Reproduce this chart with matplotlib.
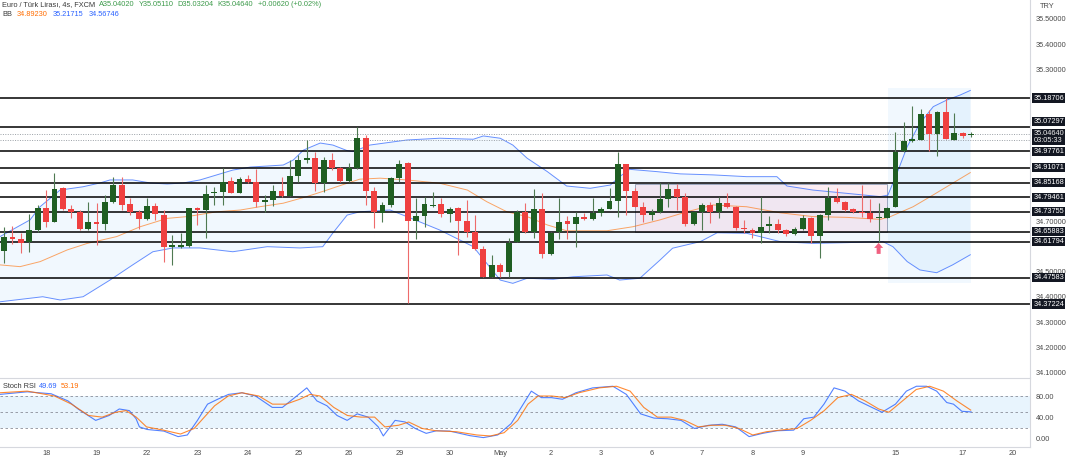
import matplotlib
matplotlib.use("Agg")
import matplotlib.pyplot as plt
import matplotlib.transforms as mtransforms
from matplotlib.patches import Rectangle, Polygon
import numpy as np

plt.rcParams["font.family"] = ["Liberation Sans", "DejaVu Sans"]

# 4h EUR/TRY candles (oldest first)
opens = [34.583, 34.636, 34.628, 34.616, 34.665, 34.753, 34.698, 34.830, 34.747, 34.738,
         34.668, 34.698, 34.687, 34.776, 34.843, 34.767, 34.735, 34.707, 34.760, 34.726,
         34.599, 34.599, 34.602, 34.751, 34.744, 34.810, 34.817, 34.859, 34.813, 34.865,
         34.855, 34.777, 34.784, 34.821, 34.800, 34.879, 34.942, 34.948, 34.850, 34.942,
         34.909, 34.860, 34.909, 35.028, 34.819, 34.734, 34.764, 34.869, 34.929, 34.702,
         34.720, 34.759, 34.768, 34.727, 34.751, 34.702, 34.656, 34.588, 34.480, 34.527,
         34.500, 34.619, 34.735, 34.658, 34.747, 34.570, 34.656, 34.701, 34.687, 34.718,
         34.708, 34.734, 34.748, 34.780, 34.925, 34.821, 34.757, 34.724, 34.738, 34.786,
         34.827, 34.797, 34.687, 34.735, 34.764, 34.735, 34.771, 34.757, 34.674, 34.665,
         34.654, 34.681, 34.687, 34.665, 34.648, 34.669, 34.714, 34.641, 34.724, 34.790,
         34.777, 34.747, 34.737, 34.731, 34.711, 34.714, 34.757, 34.977, 35.018, 35.021,
         35.122, 35.045, 35.133, 35.021, 35.050, 35.0402]
highs = [34.676, 34.681, 34.652, 34.727, 34.764, 34.823, 34.889, 34.836, 34.764, 34.744,
         34.777, 34.771, 34.803, 34.876, 34.876, 34.790, 34.744, 34.790, 34.771, 34.744,
         34.645, 34.652, 34.752, 34.755, 34.843, 34.836, 34.909, 34.873, 34.876, 34.883,
         34.905, 34.803, 34.843, 34.873, 34.942, 34.962, 35.021, 34.975, 34.955, 34.968,
         34.916, 34.929, 35.074, 35.041, 34.836, 34.777, 34.876, 34.942, 34.935, 34.790,
         34.797, 34.817, 34.790, 34.755, 34.755, 34.784, 34.724, 34.602, 34.566, 34.533,
         34.632, 34.744, 34.771, 34.826, 34.810, 34.658, 34.793, 34.722, 34.738, 34.731,
         34.793, 34.755, 34.830, 34.975, 34.926, 34.830, 34.777, 34.747, 34.850, 34.850,
         34.847, 34.810, 34.738, 34.771, 34.777, 34.794, 34.810, 34.760, 34.705, 34.672,
         34.797, 34.720, 34.707, 34.668, 34.676, 34.724, 34.718, 34.727, 34.836, 34.830,
         34.778, 34.751, 34.843, 34.786, 34.770, 34.757, 35.054, 35.093, 35.157, 35.144,
         35.140, 35.134, 35.188, 35.126, 35.054, 35.0511]
lows = [34.533, 34.610, 34.573, 34.579, 34.658, 34.678, 34.697, 34.744, 34.711, 34.665,
        34.665, 34.606, 34.665, 34.771, 34.744, 34.724, 34.668, 34.705, 34.705, 34.540,
        34.527, 34.592, 34.599, 34.685, 34.632, 34.764, 34.764, 34.810, 34.810, 34.850,
        34.755, 34.738, 34.760, 34.797, 34.799, 34.856, 34.929, 34.821, 34.817, 34.902,
        34.856, 34.856, 34.908, 34.764, 34.672, 34.698, 34.757, 34.856, 34.375, 34.628,
        34.678, 34.755, 34.718, 34.698, 34.566, 34.639, 34.586, 34.480, 34.480, 34.480,
        34.480, 34.616, 34.652, 34.632, 34.553, 34.566, 34.628, 34.629, 34.599, 34.705,
        34.705, 34.722, 34.747, 34.715, 34.724, 34.755, 34.698, 34.705, 34.731, 34.755,
        34.744, 34.681, 34.685, 34.665, 34.691, 34.711, 34.751, 34.665, 34.652, 34.632,
        34.612, 34.654, 34.652, 34.641, 34.645, 34.665, 34.615, 34.553, 34.705, 34.771,
        34.742, 34.731, 34.718, 34.698, 34.619, 34.711, 34.757, 34.975, 35.014, 35.020,
        34.977, 34.959, 35.023, 35.020, 35.028, 35.0320]
closes = [34.636, 34.629, 34.615, 34.665, 34.753, 34.698, 34.826, 34.748, 34.736, 34.668,
          34.697, 34.689, 34.774, 34.842, 34.764, 34.738, 34.707, 34.760, 34.727, 34.598,
          34.602, 34.604, 34.751, 34.744, 34.807, 34.817, 34.856, 34.813, 34.865, 34.855,
          34.777, 34.784, 34.821, 34.800, 34.879, 34.942, 34.948, 34.850, 34.942, 34.909,
          34.860, 34.909, 35.028, 34.819, 34.735, 34.763, 34.869, 34.926, 34.702, 34.720,
          34.768, 34.762, 34.727, 34.747, 34.702, 34.656, 34.588, 34.480, 34.527, 34.500,
          34.615, 34.735, 34.658, 34.747, 34.570, 34.652, 34.698, 34.687, 34.718, 34.708,
          34.734, 34.748, 34.780, 34.925, 34.821, 34.757, 34.724, 34.738, 34.786, 34.827,
          34.794, 34.687, 34.735, 34.764, 34.735, 34.771, 34.757, 34.672, 34.668, 34.654,
          34.676, 34.687, 34.665, 34.648, 34.669, 34.711, 34.641, 34.724, 34.790, 34.777,
          34.744, 34.738, 34.731, 34.707, 34.714, 34.753, 34.975, 35.017, 35.021, 35.122,
          35.043, 35.133, 35.024, 35.050, 35.038, 35.0464]

# Bollinger Bands (20, 2): bar position -> price
bb_upper_x = [-0.48, 3.09, 4.28, 6.66, 9.39, 11.4, 12.6, 15.3, 17.4, 19.4, 21.3, 23.3, 25.3, 27.2,
              29.3, 31.3, 33.2, 34.4, 35.6, 37.6, 39.1, 40.8, 41.5, 43.5, 47.9, 51.8, 55.8, 57.0,
              59.0, 60.5, 62.2, 64.6, 66.9, 69.7, 72.1, 73.2, 74.4, 77.6, 80.4, 84.3, 88.3, 91.9,
              93.1, 96.2, 100.2, 104.2, 105.1, 106.2, 107.4, 108.9, 110.5, 112.1, 113.7, 114.9]
bb_upper = [34.639, 34.705, 34.757, 34.823, 34.836, 34.851, 34.863, 34.863, 34.851, 34.847,
            34.851, 34.863, 34.883, 34.902, 34.914, 34.918, 34.922, 34.942, 34.981, 35.009,
            35.001, 34.979, 34.975, 35.001, 35.021, 35.028, 35.024, 35.037, 35.028, 35.001,
            34.949, 34.896, 34.839, 34.830, 34.843, 34.876, 34.905, 34.896, 34.887, 34.883,
            34.876, 34.876, 34.839, 34.823, 34.810, 34.797, 34.803, 34.891, 34.995, 35.087,
            35.153, 35.179, 35.199, 35.217]
bb_mid_x = [-0.48, 1.9, 4.3, 7.5, 9.9, 13.4, 16.2, 19.4, 21.8, 25.3, 28.1, 30.4, 33.2, 36.0,
            38.4, 40.8, 42.3, 44.7, 47.9, 51.8, 55.1, 57.4, 59.8, 62.2, 64.6, 66.9, 71.7, 74.8,
            78.0, 81.2, 84.3, 88.3, 92.3, 96.2, 100.2, 104.2, 105.4, 108.1, 110.5, 112.8, 114.9]
bb_mid = [34.527, 34.520, 34.540, 34.586, 34.612, 34.639, 34.678, 34.711, 34.718, 34.737,
          34.744, 34.757, 34.771, 34.797, 34.823, 34.850, 34.866, 34.870, 34.863, 34.850,
          34.823, 34.777, 34.737, 34.718, 34.685, 34.662, 34.662, 34.678, 34.705, 34.737,
          34.764, 34.757, 34.733, 34.718, 34.715, 34.707, 34.718, 34.757, 34.804, 34.850, 34.892]
bb_lower_x = [-0.48, 4.6, 6.7, 9.4, 12.6, 15.3, 17.7, 20.1, 23.3, 27.2, 31.3, 35.2, 37.9, 39.1,
              40.8, 42.3, 45.9, 47.9, 51.8, 55.8, 57.4, 59.0, 60.5, 62.2, 65.3, 67.7, 71.7, 73.2,
              75.6, 78.0, 79.5, 82.8, 84.8, 88.3, 92.3, 96.2, 100.2, 104.5, 105.7, 107.4, 108.9,
              110.9, 112.8, 114.9]
bb_lower = [34.381, 34.401, 34.388, 34.401, 34.467, 34.527, 34.579, 34.594, 34.594, 34.579,
            34.599, 34.594, 34.599, 34.653, 34.724, 34.737, 34.744, 34.718, 34.665, 34.599,
            34.533, 34.467, 34.454, 34.474, 34.470, 34.480, 34.487, 34.467, 34.474, 34.546,
            34.593, 34.619, 34.654, 34.652, 34.619, 34.612, 34.615, 34.619, 34.599, 34.540,
            34.507, 34.496, 34.527, 34.567]

# support / resistance levels drawn on the chart
levels = [35.18706, 35.07297, 34.97761, 34.91071, 34.85168, 34.79461,
          34.73755, 34.65883, 34.61794, 34.47583, 34.37224]
last_price = 35.04640
last_price_2 = 35.021
countdown = "03:05:33"
scale_ticks = [35.5, 35.4, 35.3, 34.7, 34.5, 34.4, 34.3, 34.2, 34.1]

# consolidation box and marker
box_start, box_end = 75.0, 105.0
box_low, box_high = 34.658, 34.845
zone_start, zone_end = 105.1, 115.0
zone_low, zone_high = 34.455, 35.225
arrow_bar, arrow_price = 104.0, 34.614

# Stoch RSI
k_x = [-0.48, 2.76, 5.6, 7.6, 8.8, 10.9, 12.5, 13.7, 14.9, 15.7, 16.1, 17.0, 19.0, 20.7, 21.8,
       23.0, 24.2, 25.4, 26.7, 28.3, 29.9, 31.9, 33.1, 34.8, 36.0, 37.2, 38.4, 39.6, 40.8, 42.0,
       43.3, 44.5, 45.1, 46.5, 47.7, 48.9, 50.2, 51.4, 53.0, 55.4, 57.0, 58.7, 60.3, 61.5, 62.7,
       63.9, 65.1, 66.4, 68.0, 70.0, 72.4, 74.0, 75.7, 77.3, 78.9, 80.5, 82.1, 83.8, 85.4, 87.0,
       88.6, 90.2, 91.9, 93.9, 95.1, 96.3, 97.5, 98.7, 100.0, 101.6, 103.2, 104.4, 106.0, 107.3,
       108.5, 109.7, 110.9, 112.1, 112.9, 113.9, 115.0]
k_vals = [83.1, 88, 84.3, 70.7, 55.3, 33.6, 42.9, 55.3, 52.2, 36.7, 21.2, 16.3, 13.2, 2.7, 5.8,
          33.6, 64.5, 73.8, 83.1, 86.2, 80, 58.3, 58.3, 80, 95.5, 70.7, 61.4, 42.9, 33.6, 46,
          39.8, 21.2, 3.9, 33.6, 30.5, 18.1, 8.9, 13.8, 13.2, 4.5, 0.8, 5.8, 27.4, 58.3, 89.3,
          76.9, 76.9, 73.8, 86.2, 95.5, 98.6, 83.1, 46, 37.9, 36.7, 33.6, 18.1, 24.3, 26.2, 21.2,
          2.7, 8.9, 13.8, 15.0, 36.7, 39.8, 64.5, 95.5, 89.3, 70.7, 58.3, 49.1, 64.5, 89.3,
          98.6, 98.6, 89.3, 67.6, 64.5, 50.9, 49.69]
d_x = [-0.48, 2.76, 6.0, 8.03, 10.05, 11.67, 13.29, 14.51, 15.72, 16.94, 18.96, 20.99, 22.6,
       23.82, 25.04, 26.66, 28.28, 30.3, 31.92, 33.54, 35.16, 36.38, 37.59, 39.21, 40.83, 42.45,
       44.07, 45.29, 46.91, 48.12, 49.74, 51.36, 53.79, 56.22, 57.84, 59.46, 61.08, 62.3, 63.51,
       65.13, 66.75, 68.37, 70.8, 72.83, 74.45, 76.07, 77.69, 79.31, 80.93, 82.55, 84.17, 85.79,
       87.41, 89.03, 90.65, 92.27, 94.29, 95.91, 97.53, 99.15, 100.77, 102.39, 104.01, 105.22,
       106.84, 108.47, 110.08, 111.7, 113.3, 114.95]
d_vals = [86.2, 89.3, 80, 64.5, 42.9, 39.8, 49.1, 52.2, 39.8, 21.2, 15, 7.6, 18.1, 39.8, 61.4,
          80, 86.2, 80, 64.5, 64.5, 73.8, 83.1, 80, 58.3, 42.9, 39.8, 39.8, 21.2, 24.3, 30.5,
          18.1, 13.8, 12, 5.8, 3.9, 10.1, 33.6, 64.5, 80, 80, 76.9, 86.2, 95.5, 98.6, 89.3,
          58.3, 39.8, 39.8, 33.6, 21.2, 24.3, 24.3, 18.1, 5.8, 12, 15, 18.1, 33.6, 52.2, 77,
          83.1, 70.7, 55.3, 49.1, 70.7, 92.4, 98.6, 89.3, 70.7, 53.19]

tick_pos = [5, 11, 17, 23, 29, 35, 41, 47, 53, 59, 65, 71, 77, 83, 89, 95, 106, 114, 120]
tick_labels = ["18", "19", "22", "23", "24", "25", "26", "29", "30", "May",
               "2", "3", "6", "7", "8", "9", "15", "17", "20"]

UP, DOWN = "#1f5e22", "#ef4040"
BLUE, ORANGE = "#2962ff", "#ff6d00"
AXIS_TXT = "#4a4a4a"
LABEL_TXT = "#3a3a3a"
HDR_GREEN = "#3c9a4a"

W, H = 1068, 465
fig = plt.figure(figsize=(W / 100, H / 100), dpi=100)
ax = fig.add_axes([0, 1 - 377 / H, 1030 / W, 377 / H])
ax_rsi = fig.add_axes([0, 1 - 447 / H, 1030 / W, 69 / H])
renderer = fig.canvas.get_renderer()


def flow_text(x_px, y_px, parts, size, gap=4):
    """Write coloured pieces of text one after the other on a line."""
    x = x_px
    for s, col in parts:
        t = fig.text(x / W, 1 - y_px / H, s, fontsize=size, color=col, va="center")
        x += t.get_window_extent(renderer=renderer).width + gap


x_lim = (-0.48, 122.0)
ax.set_xlim(*x_lim)
ax.set_ylim(34.0835, 35.5748)

# Bollinger fill + lines
poly_x = np.concatenate([bb_upper_x, bb_lower_x[::-1]])
poly_y = np.concatenate([bb_upper, bb_lower[::-1]])
ax.fill(poly_x, poly_y, color=(0.13, 0.59, 0.95, 0.06), lw=0, zorder=0.5)
ax.add_patch(Rectangle((zone_start, zone_low), zone_end - zone_start, zone_high - zone_low,
                       fc=(0.13, 0.59, 0.95, 0.06), ec="none", zorder=0.5))
ax.add_patch(Rectangle((box_start, box_low), box_end - box_start, box_high - box_low,
                       fc=(0.91, 0.12, 0.39, 0.08), ec="#8f9bb3", lw=0.6, zorder=0.6))
ax.plot(bb_upper_x, bb_upper, color=BLUE, lw=0.7, alpha=0.7, zorder=1)
ax.plot(bb_lower_x, bb_lower, color=BLUE, lw=0.7, alpha=0.7, zorder=1)
ax.plot(bb_mid_x, bb_mid, color=ORANGE, lw=0.7, alpha=0.6, zorder=1)

# horizontal levels
for lv in levels:
    ax.axhline(lv, color="black", lw=1.1, zorder=1.5)
for lv in (last_price, last_price_2):
    ax.axhline(lv, color="#9aa0a6", lw=0.7, ls=(0, (1, 1.5)), zorder=1.4)

# candles
o = np.array(opens)
c = np.array(closes)
idx = np.arange(len(o))
up = c >= o
colors = np.where(up, UP, DOWN)
wick_colors = np.where(up, "#4f7a52", "#ee6b6b")
ax.vlines(idx, lows, highs, colors=wick_colors, lw=0.8, zorder=2)
body = np.maximum(np.abs(c - o), 0.005)
ax.bar(idx, body, bottom=np.minimum(o, c), width=0.7, color=colors, lw=0, zorder=3)

# red up arrow marker
px = (x_lim[1] - x_lim[0]) / 1030
py = (35.5748 - 34.0835) / 377
arrow = [(arrow_bar, arrow_price), (arrow_bar + 4.5 * px, arrow_price - 5 * py),
         (arrow_bar + 2 * px, arrow_price - 5 * py), (arrow_bar + 2 * px, arrow_price - 11 * py),
         (arrow_bar - 2 * px, arrow_price - 11 * py), (arrow_bar - 2 * px, arrow_price - 5 * py),
         (arrow_bar - 4.5 * px, arrow_price - 5 * py)]
ax.add_patch(Polygon(arrow, closed=True, fc="#f06080", ec="none", zorder=4))

# right price scale
ax.yaxis.tick_right()
ax.set_yticks(scale_ticks)
ax.set_yticklabels([f"{v:.5f}" for v in scale_ticks])
ax.tick_params(axis="y", length=0, pad=4, labelsize=5.3, labelcolor=AXIS_TXT)
ax.set_xticks([])
for s in ("top", "left", "bottom"):
    ax.spines[s].set_visible(False)
ax.spines["right"].set_color("#d6d8de")
ax.spines["right"].set_linewidth(0.8)

tr = mtransforms.blended_transform_factory(ax.transAxes, ax.transData)
label_shift = {35.07297: 4.0, 34.97761: -0.5}
box = dict(boxstyle="square,pad=0.15", fc="#131722", ec="none")
for lv in levels:
    t = mtransforms.offset_copy(tr, fig=fig, x=2.5, y=label_shift.get(lv, 0), units="points")
    ax.text(1.0, lv, f"{lv:.5f}", transform=t, ha="left", va="center", fontsize=5.3,
            color="white", bbox=box, zorder=10, clip_on=False)
t = mtransforms.offset_copy(tr, fig=fig, x=2.5, y=-2.6, units="points")
ax.text(1.0, last_price, f"{last_price:.5f}\n{countdown}", transform=t, ha="left",
        va="center", fontsize=5.3, linespacing=1.05, color="#eeeeee", bbox=box, zorder=10,
        clip_on=False)

# header
flow_text(2, 5, [("Euro / Türk Lirası, 4s, FXCM", LABEL_TXT), ("A35.04020", HDR_GREEN),
                 ("Y35.05110", HDR_GREEN), ("D35.03204", HDR_GREEN), ("K35.04640", HDR_GREEN),
                 ("+0.00620 (+0.02%)", HDR_GREEN)], 5.3)
flow_text(2, 15, [("BB", LABEL_TXT), ("34.89230", ORANGE), ("35.21715", BLUE),
                  ("34.56746", BLUE)], 5.3, gap=5)
fig.text(1040 / W, 1 - 6 / H, "TRY", fontsize=5.3, color=AXIS_TXT, va="center")

# Stoch RSI panel
ax_rsi.set_xlim(*x_lim)
ax_rsi.set_ylim(-17.1, 114.3)
ax_rsi.axhspan(20, 80, color=(0.13, 0.59, 0.95, 0.1), lw=0, zorder=0)
for lv in (80, 50, 20):
    ax_rsi.axhline(lv, color="#8a8e99", lw=0.6, ls=(0, (3, 3)), zorder=1)
ax_rsi.plot(k_x, k_vals, color=BLUE, lw=0.8, alpha=0.8, zorder=2)
ax_rsi.plot(d_x, d_vals, color=ORANGE, lw=0.8, alpha=0.8, zorder=2)
ax_rsi.yaxis.tick_right()
ax_rsi.set_yticks([0, 40, 80])
ax_rsi.set_yticklabels(["0.00", "40.00", "80.00"])
ax_rsi.tick_params(axis="y", length=0, pad=4, labelsize=5.3, labelcolor=AXIS_TXT)
ax_rsi.set_xticks(tick_pos)
ax_rsi.set_xticklabels(tick_labels)
ax_rsi.tick_params(axis="x", length=0, pad=2, labelsize=5.3, labelcolor=AXIS_TXT)
ax_rsi.spines["left"].set_visible(False)
for s in ("top", "right", "bottom"):
    ax_rsi.spines[s].set_color("#d6d8de")
    ax_rsi.spines[s].set_linewidth(0.8)
flow_text(3, 386, [("Stoch RSI", LABEL_TXT), ("49.69", BLUE), ("53.19", ORANGE)], 5.3, gap=3)

fig.savefig("out.png", dpi=100)
